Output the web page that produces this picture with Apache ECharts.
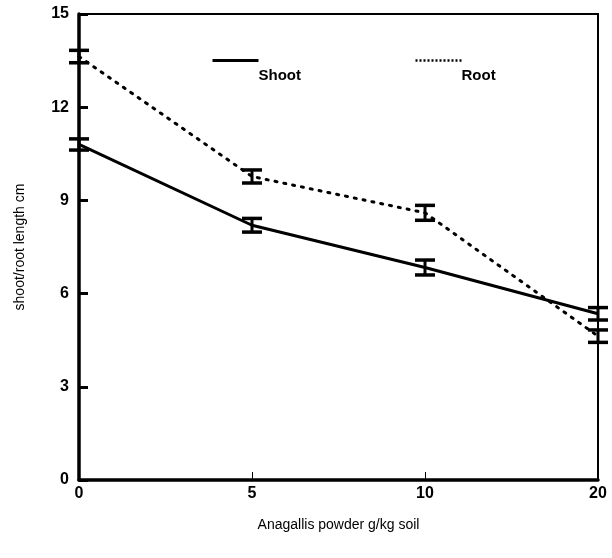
<!DOCTYPE html>
<html>
<head>
<meta charset="utf-8">
<script src="https://cdn.jsdelivr.net/npm/echarts@6/dist/echarts.min.js"></script>
<style>
  html, body { margin: 0; padding: 0; background: #fff; }
  #chart { width: 612px; height: 558px; }
</style>
</head>
<body>
<div id="chart"></div>
<script>
var doses = ['0', '5', '10', '20'];
var shoot = [10.8, 8.2, 6.84, 5.35];
var shootErr = [0.18, 0.22, 0.24, 0.2];
var root = [13.63, 9.77, 8.6, 4.63];
var rootErr = [0.2, 0.21, 0.24, 0.2];
var yTicks = [0, 3, 6, 9, 12, 15];
var seriesNames = ['Shoot', 'Root'];

function errData(vals, errs) {
  return vals.map(function (v, i) { return [i, v - errs[i], v + errs[i]]; });
}

function errBar(params, api) {
  var lo = api.coord([api.value(0), api.value(1)]);
  var hi = api.coord([api.value(0), api.value(2)]);
  var w = 10;
  var st = { stroke: '#000', lineWidth: 3.5 };
  return {
    type: 'group',
    children: [
      { type: 'line', shape: { x1: lo[0], y1: lo[1], x2: hi[0], y2: hi[1] }, style: { stroke: '#000', lineWidth: 3 } },
      { type: 'line', shape: { x1: lo[0] - w, y1: lo[1], x2: lo[0] + w, y2: lo[1] }, style: st },
      { type: 'line', shape: { x1: hi[0] - w, y1: hi[1], x2: hi[0] + w, y2: hi[1] }, style: st }
    ]
  };
}

// legend drawn by hand: line sample above-left of its label, like the original
function legendKey(x, name, dash) {
  return {
    type: 'group', left: x, top: 58,
    children: [
      { type: 'line', shape: { x1: 0, y1: 2, x2: 46, y2: 2 }, style: { stroke: '#000', lineWidth: dash ? 2.5 : 3, lineDash: dash || null } },
      { type: 'text', x: 46, y: 10, style: { text: name, font: 'bold 15px "Liberation Sans"', fill: '#000' } }
    ]
  };
}

var chart = echarts.init(document.getElementById('chart'));
chart.setOption({
  animation: false,
  grid: {
    left: 79, right: 14, top: 14, bottom: 78,
    show: true, borderColor: '#000', borderWidth: 2
  },
  graphic: [
    legendKey(210, seriesNames[0], null),
    legendKey(413, seriesNames[1], [2, 2])
  ],
  xAxis: {
    type: 'category',
    data: doses,
    boundaryGap: false,
    name: 'Anagallis powder g/kg soil',
    nameLocation: 'middle',
    nameGap: 38,
    nameTextStyle: { fontFamily: 'Liberation Sans', fontSize: 14, color: '#000' },
    axisLine: { lineStyle: { color: '#000', width: 3.5 } },
    axisTick: { inside: true, length: 8, lineStyle: { color: '#000', width: 1 } },
    axisLabel: { fontFamily: 'Liberation Sans', fontSize: 16, fontWeight: 'bold', color: '#000', margin: 6 },
    splitLine: { show: false }
  },
  yAxis: {
    type: 'value',
    min: 0, max: 15, interval: 3,
    name: 'shoot/root length cm',
    nameLocation: 'middle',
    nameGap: 52,
    nameTextStyle: { fontFamily: 'Liberation Sans', fontSize: 14, color: '#000' },
    axisLine: { show: true, lineStyle: { color: '#000', width: 3.5 } },
    axisTick: { show: true, inside: true, length: 9, lineStyle: { color: '#000', width: 3 } },
    axisLabel: {
      fontFamily: 'Liberation Sans', fontSize: 16, fontWeight: 'bold', color: '#000', margin: 10,
      formatter: function (v) { return yTicks.indexOf(v) >= 0 ? String(v) : ''; }
    },
    splitLine: { show: false }
  },
  series: [
    {
      name: seriesNames[0], type: 'line', data: shoot, symbol: 'none',
      lineStyle: { color: '#000', width: 3 }, z: 3
    },
    {
      name: seriesNames[1], type: 'line', data: root, symbol: 'none',
      lineStyle: { color: '#000', width: 3, type: [2, 7], cap: 'round' }, z: 3
    },
    { type: 'custom', renderItem: errBar, data: errData(shoot, shootErr), z: 4 },
    { type: 'custom', renderItem: errBar, data: errData(root, rootErr), z: 4 }
  ]
});
</script>
</body>
</html>
